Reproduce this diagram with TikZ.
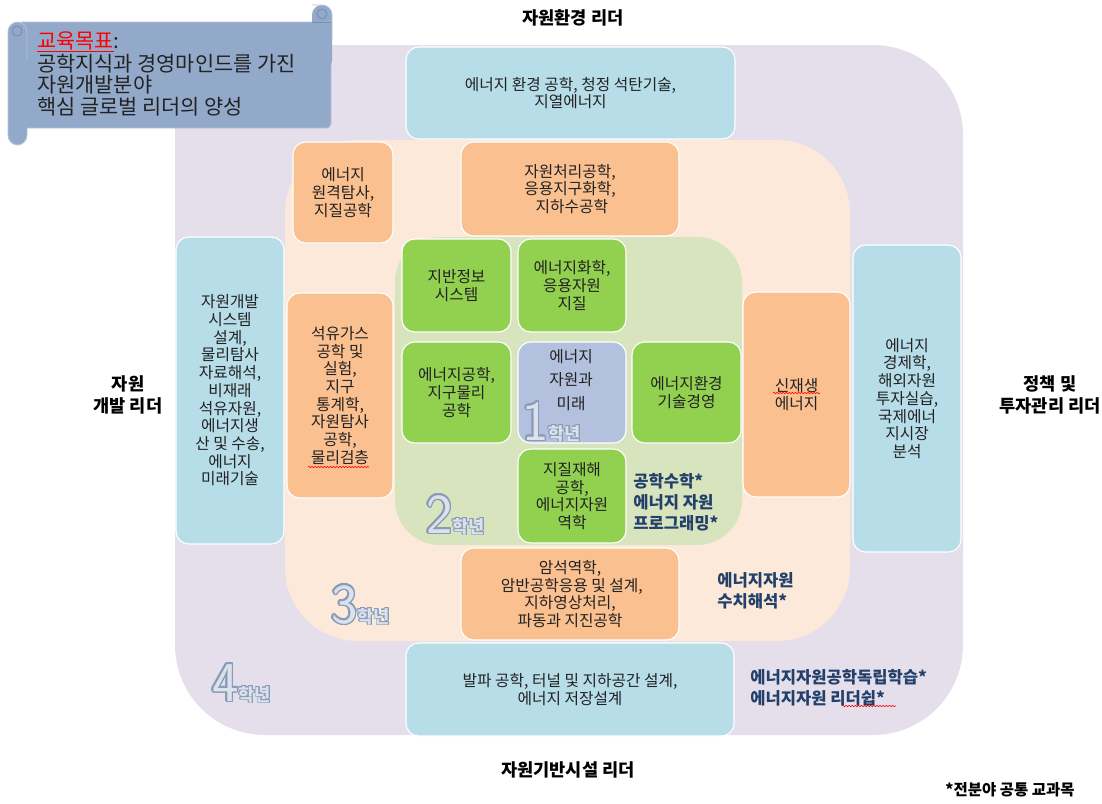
\documentclass[tikz,border=0pt]{standalone}
\usepackage{fontspec}
\setmainfont{Noto Sans CJK KR}
\usepackage{contour}
\usetikzlibrary{decorations.pathmorphing}
\definecolor{lav}{HTML}{E5DFEC}
\definecolor{peach}{HTML}{FDE9D9}
\definecolor{lgreen}{HTML}{D7E4BD}
\definecolor{gbox}{HTML}{92D050}
\definecolor{obox}{HTML}{FAC090}
\definecolor{bbox}{HTML}{B7DDE8}
\definecolor{cbox}{HTML}{B3C1DF}
\definecolor{navy}{HTML}{22406A}
\definecolor{txt}{HTML}{222222}
\definecolor{scr}{HTML}{93A9CA}
\definecolor{scredge}{HTML}{B3C3DB}
\definecolor{scrcurl}{HTML}{7890B4}
\definecolor{numline}{HTML}{8A9BB8}
\definecolor{numfill}{HTML}{DCE2EB}
\newcommand\boxfont{\fontsize{11.2}{12.6}\selectfont}
\newcommand\labfont{\fontsize{12.5}{16}\selectfont\bfseries}
\newcommand\navyfont{\fontsize{11.8}{15}\selectfont\bfseries}
\newcommand\bx[7]{\node[#2, minimum width={(#5-#3)*0.025cm}, minimum height={(#6-#4)*0.025cm}] (#1) at ({(#3+#5)/2},{(#4+#6)/2}) {#7};}
\newcommand\yrlabel[1]{{\color{numfill}\contourlength{1.1pt}\contour{numline}{\fontsize{40}{40}\selectfont\sffamily #1}}{\color{numfill}\contourlength{0.6pt}\contour{numline}{\fontsize{12.5}{12}\selectfont\bfseries 학년}}}
\tikzset{
  basebox/.style={draw=white, line width=0.8pt, rounded corners=9pt, inner sep=0pt, align=center, font=\boxfont, text=txt},
  gb/.style={basebox, fill=gbox},
  ob/.style={basebox, fill=obox},
  bb/.style={basebox, fill=bbox},
  cb/.style={basebox, fill=cbox},
  lab/.style={align=center, font=\labfont, text=black, inner sep=0pt},
  nav/.style={align=left, font=\navyfont, text=navy, inner sep=0pt, anchor=west},
  yr/.style={anchor=base west, inner sep=0pt},
  squig/.style={red, line width=0.4pt, decorate, decoration={snake, amplitude=0.5pt, segment length=2.2pt}}
}
\begin{document}
\begin{tikzpicture}[x=0.025cm,y=-0.025cm]
\useasboundingbox (0,0) rectangle (1102,803);
% nested regions
\fill[lav, rounded corners=64pt] (175,45) rectangle (963,735);
\fill[peach, rounded corners=52pt] (285,140) rectangle (850,641);
\fill[lgreen, rounded corners=32pt] (395,237) rectangle (742,545);
% light blue boxes (4th year)
\bx{tb}{bb}{406}{47}{735}{139}{에너지 환경 공학, 청정 석탄기술,\\지열에너지}
\bx{bbx}{bb}{406}{643}{734}{736}{발파 공학, 터널 및 지하공간 설계,\\에너지 저장설계}
\bx{lb}{bb}{176}{237}{284}{544}{자원개발\\시스템\\설계,\\물리탐사\\자료해석,\\비재래\\석유자원,\\에너지생\\산 및 수송,\\에너지\\미래기술}
\bx{rb}{bb}{853}{245}{961}{552}{에너지\\경제학,\\해외자원\\투자실습,\\국제에너\\지시장\\분석}
% orange boxes (3rd year)
\bx{o1}{ob}{293}{142}{393}{243}{에너지\\원격탐사,\\지질공학}
\bx{o2}{ob}{461}{142}{679}{236}{자원처리공학,\\응용지구화학,\\\ 지하수공학}
\bx{o3}{ob}{287}{293}{393}{498}{석유가스\\공학 및\\실험,\\지구\\통계학,\\자원탐사\\공학,\\물리검층}
\bx{o4}{ob}{743}{292}{850}{497}{신재생\\에너지}
\bx{o5}{ob}{461}{548}{679}{640}{암석역학,\\\ 암반공학응용 및 설계,\\지하영상처리,\\파동과 지진공학}
% green boxes (2nd year)
\bx{g1}{gb}{402}{239}{511}{332}{지반정보\\시스템}
\bx{g2}{gb}{518}{239}{626}{332}{에너지화학,\\응용자원\\지질}
\bx{g3}{gb}{402}{342}{511}{443}{에너지공학,\\지구물리\\공학}
\bx{g4}{gb}{632}{342}{741}{443}{에너지환경\\기술경영}
\bx{g5}{gb}{518}{449}{626}{543}{지질재해\\공학,\\에너지자원\\역학}
% center (1st year)
\bx{c1}{cb}{518}{342}{626}{443}{}
\node[align=center, font=\boxfont, text=txt, inner sep=0pt] (c1t) at (571,380) {에너지\\[4pt]자원과\\[4pt]미래};
% year labels
\node[yr] (yr1) at (522,440) {\yrlabel{1}};
\node[yr] (yr2) at (426,533) {\yrlabel{2}};
\node[yr] (yr3) at (331,623) {\yrlabel{3}};
\node[yr] (yr4) at (212,701) {\yrlabel{4}};
% common courses
\node[nav] (n1) at (633,502) {공학수학*\\에너지 자원\\프로그래밍*};
\node[nav] (n2) at (717,591) {에너지자원\\수치해석*};
\node[nav] (n3) at (750,688) {에너지자원공학독립학습*\\에너지자원 리더쉽*};
% spell-check squiggles
\draw[squig] (308,467) -- (369,467);
\draw[squig] (773,393) -- (820,393);
\draw[squig] (842,706) -- (896,706);
% outer labels
\node[lab] (ltop) at (573,18) {자원환경 리더};
\node[lab] (lleft) at (128,395) {자원\\개발 리더};
\node[lab] (lright) at (1050,395) {정책 및\\투자관리 리더};
\node[lab] (lbot) at (568,770) {자원기반시설 리더};
\node[lab, font=\fontsize{11}{13}\selectfont\bfseries] (note) at (1010,790) {*전분야 공통 교과목};
% scroll
\fill[scr, rounded corners=3pt] (18,22) rectangle (331,128);
\draw[scredge, line width=0.6pt, rounded corners=3pt] (18,22) rectangle (331,128);
\fill[scr, rounded corners=7pt] (312,5) rectangle (332,70);
\draw[scredge, line width=0.6pt, rounded corners=7pt] (312,5) -- (332,5) -- (332,40);
\fill[scr, rounded corners=7pt] (8,22) rectangle (27,145);
\draw[scredge, line width=0.6pt, rounded corners=7pt] (27,60) -- (27,22) -- (8,22) -- (8,145) -- (27,145) -- (27,128);
\draw[scrcurl, line width=0.7pt] (17,31) circle[radius=5];
\draw[scrcurl, line width=0.7pt] (322,14) circle[radius=5];
\draw[scrcurl, line width=0.5pt] (312,22) -- (331,22);
\node[anchor=north west, align=left, inner sep=0pt, text=txt, font=\fontsize{14.8}{15.3}\selectfont] (goal) at (37,31)
  {\textcolor{red}{\underline{교육목표}}:\\공학지식과 경영마인드를 가진\\자원개발분야\\핵심 글로벌 리더의 양성};
\end{tikzpicture}
\end{document}
